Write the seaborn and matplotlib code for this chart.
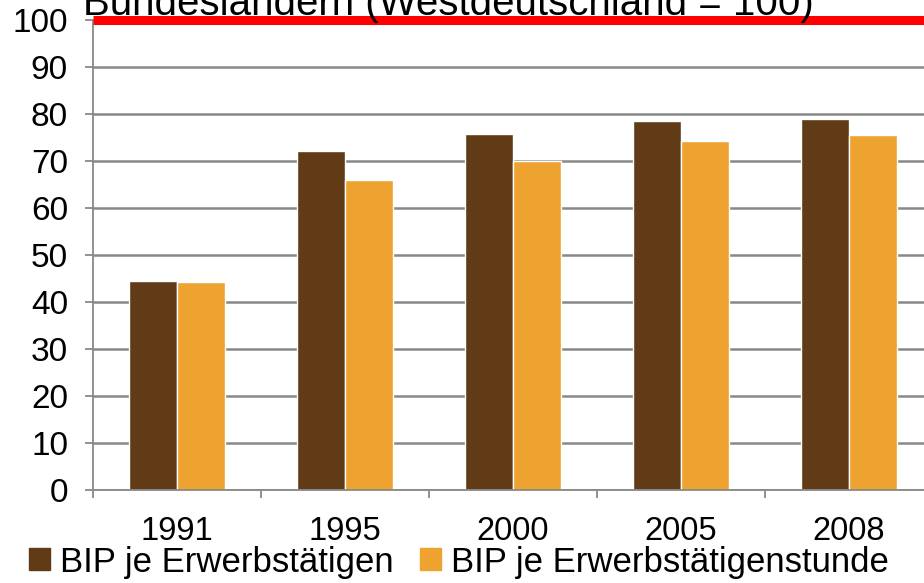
import pandas as pd
import matplotlib.pyplot as plt
import seaborn as sns

years = ["1991", "1995", "2000", "2005", "2008"]
bip_erwerbstaetige = [44.5, 72.1, 75.7, 78.6, 78.9]
bip_stunde = [44.3, 65.9, 70.0, 74.3, 75.5]
series = ["BIP je Erwerbstätigen", "BIP je Erwerbstätigenstunde"]
colors = ["#603B15", "#EEA230"]
title = "Bundesländern (Westdeutschland = 100)"

df = pd.DataFrame({
    "Jahr": years * 2,
    "Wert": bip_erwerbstaetige + bip_stunde,
    "Reihe": [series[0]] * len(years) + [series[1]] * len(years),
})

sns.set_style("white")
plt.rcParams["font.family"] = ["Liberation Sans", "DejaVu Sans"]
plt.rcParams["text.color"] = "black"
plt.rcParams["xtick.labelcolor"] = "black"
plt.rcParams["ytick.labelcolor"] = "black"

fig = plt.figure(figsize=(9.24, 5.83), dpi=100)
ax = fig.add_axes([93 / 924, 93 / 583, 840 / 924, 470 / 583])

sns.barplot(data=df, x="Jahr", y="Wert", hue="Reihe", palette=colors,
            width=0.57, saturation=1, ax=ax, legend=False)

ax.set_xlim(-0.5, 4.5)
ax.set_ylim(0, 100)
ax.set_yticks(range(0, 101, 10))
ax.yaxis.grid(True, color="#888888", lw=1.8)
ax.set_axisbelow(True)
ax.axhline(100, color="red", lw=6.5, clip_on=False, zorder=5,
           solid_capstyle="butt")

for s in ["top", "right"]:
    ax.spines[s].set_visible(False)
for s in ["left", "bottom"]:
    ax.spines[s].set_color("#888888")
    ax.spines[s].set_linewidth(1.3)

ax.set_xlabel("")
ax.set_ylabel("")
ax.tick_params(axis="y", left=True, length=6, width=1.3, color="#888888",
               pad=12, labelsize=24, labelcolor="black")
ax.tick_params(axis="x", which="major", length=0, pad=19, labelsize=23.5,
               labelcolor="black")
ax.set_xticks([i - 0.5 for i in range(6)], minor=True)
ax.tick_params(axis="x", which="minor", bottom=True, length=6, width=1.3,
               color="#888888", direction="out")

fig.text(83 / 924, 0.974, title, fontsize=29, va="baseline", ha="left",
         color="black")

handles = [plt.Rectangle((0, 0), 1, 1, color=c) for c in colors]
fig.legend(handles, series, loc="center", bbox_to_anchor=(0.497, 0.036),
           ncol=2, frameon=False, fontsize=25, handlelength=0.6,
           handleheight=0.6, handletextpad=0.3, columnspacing=0.75,
           borderaxespad=0, borderpad=0, labelcolor="black")

fig.savefig("out.png", dpi=100)
